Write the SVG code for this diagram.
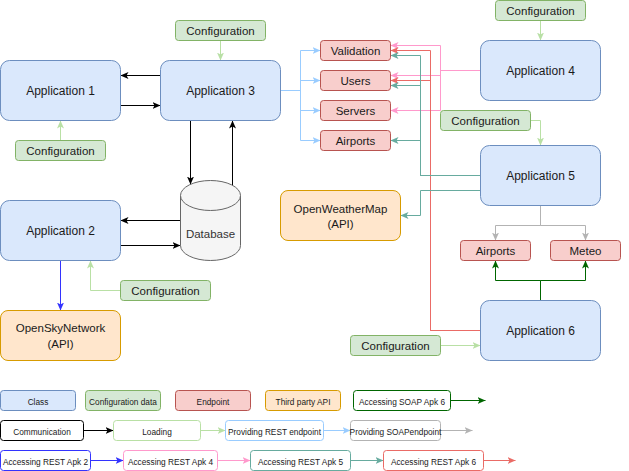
<svg xmlns="http://www.w3.org/2000/svg" width="629" height="471" viewBox="0 0 629 471">
<style>
text{font-family:"Liberation Sans",Arial,sans-serif;fill:#1a1a1a;text-anchor:middle}
.t{font-size:12px}
.s{font-size:11.5px}
.l{font-size:8.3px}
.cls{fill:#dae8fc;stroke:#6c8ebf}
.cfg{fill:#d5e8d4;stroke:#82b366}
.ep{fill:#f8cecc;stroke:#b85450}
.api{fill:#ffe6cc;stroke:#d79b00}
.db{fill:#f5f5f5;stroke:#666666}
.c path{fill:none;stroke-width:1}
.k{stroke:#000000;marker-end:url(#mk)}
.lg{stroke:#B9E0A5;marker-end:url(#mlg)}
.lb{stroke:#99CCFF;marker-end:url(#mlb)}
.gr{stroke:#B3B3B3;marker-end:url(#mgr)}
.bl{stroke:#3333FF;marker-end:url(#mbl)}
.pk{stroke:#FF99CC;marker-end:url(#mpk)}
.tl{stroke:#67AB9F;marker-end:url(#mtl)}
.rd{stroke:#EA6B66;marker-end:url(#mrd)}
.dg{stroke:#006600;marker-end:url(#mdg)}
</style>
<defs>
<marker id="mk" viewBox="0 0 8 7" refX="8" refY="3.5" markerWidth="8" markerHeight="7" markerUnits="userSpaceOnUse" orient="auto"><path d="M0,0 L8,3.5 L0,7 L2,3.5 Z" fill="#000000"/></marker>
<marker id="mlg" viewBox="0 0 8 7" refX="8" refY="3.5" markerWidth="8" markerHeight="7" markerUnits="userSpaceOnUse" orient="auto"><path d="M0,0 L8,3.5 L0,7 L2,3.5 Z" fill="#B9E0A5"/></marker>
<marker id="mlb" viewBox="0 0 8 7" refX="8" refY="3.5" markerWidth="8" markerHeight="7" markerUnits="userSpaceOnUse" orient="auto"><path d="M0,0 L8,3.5 L0,7 L2,3.5 Z" fill="#99CCFF"/></marker>
<marker id="mgr" viewBox="0 0 8 7" refX="8" refY="3.5" markerWidth="8" markerHeight="7" markerUnits="userSpaceOnUse" orient="auto"><path d="M0,0 L8,3.5 L0,7 L2,3.5 Z" fill="#B3B3B3"/></marker>
<marker id="mbl" viewBox="0 0 8 7" refX="8" refY="3.5" markerWidth="8" markerHeight="7" markerUnits="userSpaceOnUse" orient="auto"><path d="M0,0 L8,3.5 L0,7 L2,3.5 Z" fill="#3333FF"/></marker>
<marker id="mpk" viewBox="0 0 8 7" refX="8" refY="3.5" markerWidth="8" markerHeight="7" markerUnits="userSpaceOnUse" orient="auto"><path d="M0,0 L8,3.5 L0,7 L2,3.5 Z" fill="#FF99CC"/></marker>
<marker id="mtl" viewBox="0 0 8 7" refX="8" refY="3.5" markerWidth="8" markerHeight="7" markerUnits="userSpaceOnUse" orient="auto"><path d="M0,0 L8,3.5 L0,7 L2,3.5 Z" fill="#67AB9F"/></marker>
<marker id="mrd" viewBox="0 0 8 7" refX="8" refY="3.5" markerWidth="8" markerHeight="7" markerUnits="userSpaceOnUse" orient="auto"><path d="M0,0 L8,3.5 L0,7 L2,3.5 Z" fill="#EA6B66"/></marker>
<marker id="mdg" viewBox="0 0 8 7" refX="8" refY="3.5" markerWidth="8" markerHeight="7" markerUnits="userSpaceOnUse" orient="auto"><path d="M0,0 L8,3.5 L0,7 L2,3.5 Z" fill="#006600"/></marker>
</defs>
<rect x="0" y="0" width="629" height="471" fill="#ffffff"/>
<g transform="translate(0.5,0.5)">
<g id="connectors" class="c">
<path class="k" d="M160,75 H120"/>
<path class="k" d="M120,105 H160"/>
<path class="k" d="M190,120 V184"/>
<path class="k" d="M232,185 V120"/>
<path class="k" d="M180,220 H120"/>
<path class="k" d="M120,245 H180"/>
<path class="bl" d="M60,260 V310"/>
<path class="lg" d="M220,40 V60"/>
<path class="lg" d="M60,140 V120"/>
<path class="lg" d="M120,290 H90 V260"/>
<path class="lg" d="M540,20 V40"/>
<path class="lg" d="M530,120 H540 V145"/>
<path class="lg" d="M440,345 H480"/>
<path class="lb" d="M280,90 H300 V50 H320"/>
<path class="lb" d="M280,90 H300 V80 H320"/>
<path class="lb" d="M280,90 H300 V110 H320"/>
<path class="lb" d="M280,90 H300 V140 H320"/>
<path class="pk" d="M480,70 H440 V45 H390"/>
<path class="pk" d="M480,70 H440 V75 H390"/>
<path class="pk" d="M480,70 H440 V110 H390"/>
<path class="rd" d="M480,330 H430 V50 H390"/>
<path class="rd" d="M480,330 H430 V80 H390"/>
<path class="tl" d="M480,175 H420 V55 H390"/>
<path class="tl" d="M480,175 H420 V85 H390"/>
<path class="tl" d="M480,175 H420 V140 H390"/>
<path class="tl" d="M480,190 H420 V215 H400"/>
<path class="gr" d="M540,205 V225 H495 V240"/>
<path class="gr" d="M540,205 V225 H585 V240"/>
<path class="dg" d="M540,300 V280 H495 V260"/>
<path class="dg" d="M540,300 V280 H585 V260"/>
<path class="dg" d="M450,400 H485"/>
<path class="k" d="M83,430 H113"/>
<path class="lg" d="M200,430 H225"/>
<path class="lb" d="M323,430 H350"/>
<path class="gr" d="M440,430 H472"/>
<path class="bl" d="M90,460 H123"/>
<path class="pk" d="M217,460 H250"/>
<path class="tl" d="M350,460 H383"/>
<path class="rd" d="M483,460 H515"/>
</g>
<g id="app1"><rect class="cls" x="0" y="60" width="120" height="60" rx="9"/><text class="t" x="60" y="94">Application 1</text></g>
<g id="app3"><rect class="cls" x="160" y="60" width="120" height="60" rx="9"/><text class="t" x="220" y="94">Application 3</text></g>
<g id="app2"><rect class="cls" x="0" y="200" width="120" height="60" rx="9"/><text class="t" x="60" y="234">Application 2</text></g>
<g id="app4"><rect class="cls" x="480" y="40" width="120" height="60" rx="9"/><text class="t" x="540" y="74">Application 4</text></g>
<g id="app5"><rect class="cls" x="480" y="145" width="120" height="60" rx="9"/><text class="t" x="540" y="179">Application 5</text></g>
<g id="app6"><rect class="cls" x="480" y="300" width="120" height="60" rx="9"/><text class="t" x="540" y="334">Application 6</text></g>
<g id="cfg3"><rect class="cfg" x="175" y="20" width="90" height="20" rx="3"/><text class="s" x="220" y="34">Configuration</text></g>
<g id="cfg1"><rect class="cfg" x="15" y="140" width="90" height="20" rx="3"/><text class="s" x="60" y="154">Configuration</text></g>
<g id="cfg2"><rect class="cfg" x="120" y="280" width="90" height="20" rx="3"/><text class="s" x="165" y="294">Configuration</text></g>
<g id="cfg4"><rect class="cfg" x="495" y="0" width="90" height="20" rx="3"/><text class="s" x="540" y="14">Configuration</text></g>
<g id="cfg5"><rect class="cfg" x="440" y="110" width="90" height="20" rx="3"/><text class="s" x="485" y="124">Configuration</text></g>
<g id="cfg6"><rect class="cfg" x="350" y="335" width="90" height="20" rx="3"/><text class="s" x="395" y="349">Configuration</text></g>
<g id="ep-validation"><rect class="ep" x="320" y="40" width="70" height="20" rx="3"/><text class="s" x="355" y="54">Validation</text></g>
<g id="ep-users"><rect class="ep" x="320" y="70" width="70" height="20" rx="3"/><text class="s" x="355" y="84">Users</text></g>
<g id="ep-servers"><rect class="ep" x="320" y="100" width="70" height="20" rx="3"/><text class="s" x="355" y="114">Servers</text></g>
<g id="ep-airports"><rect class="ep" x="320" y="130" width="70" height="20" rx="3"/><text class="s" x="355" y="144">Airports</text></g>
<g id="ep-airports2"><rect class="ep" x="460" y="240" width="70" height="20" rx="3"/><text class="s" x="495" y="254">Airports</text></g>
<g id="ep-meteo"><rect class="ep" x="550" y="240" width="70" height="20" rx="3"/><text class="s" x="585" y="254">Meteo</text></g>
<g id="database"><path class="db" d="M180,195 A30,15 0 0 1 240,195 V245 A30,15 0 0 1 180,245 Z"/><path class="db" d="M180,195 A30,15 0 0 0 240,195" fill="none"/><text class="s" x="210" y="237" style="fill:#333333">Database</text></g>
<g id="opensky"><rect class="api" x="0" y="310" width="120" height="50" rx="7.5"/><text class="s" x="60" y="331">OpenSkyNetwork</text><text class="s" x="60" y="347">(API)</text></g>
<g id="openweather"><rect class="api" x="280" y="190" width="120" height="50" rx="7.5"/><text class="s" x="340" y="212">OpenWeatherMap</text><text class="s" x="340" y="227">(API)</text></g>
<g id="legend">
<rect class="cls" x="0" y="390" width="75" height="20" rx="3"/><text class="l" x="37.5" y="404">Class</text>
<rect class="cfg" x="85" y="390" width="75" height="20" rx="3"/><text class="l" x="122.5" y="404">Configuration data</text>
<rect class="ep" x="175" y="390" width="75" height="20" rx="3"/><text class="l" x="212.5" y="404">Endpoint</text>
<rect class="api" x="265" y="390" width="75" height="20" rx="3"/><text class="l" x="302.5" y="404">Third party API</text>
<rect x="353" y="390" width="97" height="20" rx="3" fill="#ffffff" stroke="#006600"/><text class="l" x="401.5" y="404">Accessing SOAP Apk 6</text>
<rect x="0" y="420" width="83" height="20" rx="3" fill="#ffffff" stroke="#000000"/><text class="l" x="41.5" y="434">Communication</text>
<rect x="113" y="420" width="87" height="20" rx="3" fill="#ffffff" stroke="#B9E0A5"/><text class="l" x="156.5" y="434">Loading</text>
<rect x="225" y="420" width="98" height="20" rx="3" fill="#ffffff" stroke="#99CCFF"/><text class="l" x="274" y="434">Providing REST endpoint</text>
<rect x="350" y="420" width="90" height="20" rx="3" fill="#ffffff" stroke="#B3B3B3"/><text class="l" x="395" y="434">Providing SOAPendpoint</text>
<rect x="0" y="450" width="90" height="20" rx="3" fill="#ffffff" stroke="#3333FF"/><text class="l" x="45" y="464">Accessing REST Apk 2</text>
<rect x="123" y="450" width="94" height="20" rx="3" fill="#ffffff" stroke="#FF99CC"/><text class="l" x="170" y="464">Accessing REST Apk 4</text>
<rect x="250" y="450" width="100" height="20" rx="3" fill="#ffffff" stroke="#67AB9F"/><text class="l" x="300" y="464">Accessing REST Apk 5</text>
<rect x="383" y="450" width="100" height="20" rx="3" fill="#ffffff" stroke="#EA6B66"/><text class="l" x="433" y="464">Accessing REST Apk 6</text>
</g>
</g>
</svg>
